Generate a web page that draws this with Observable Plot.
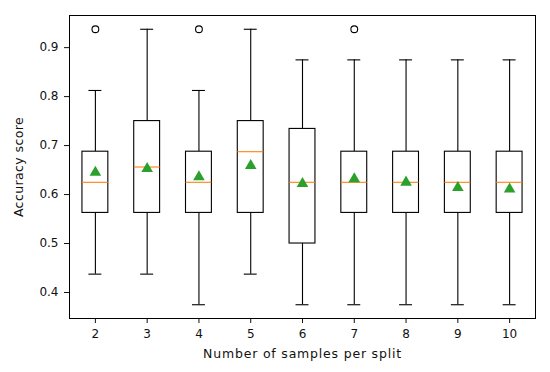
<!DOCTYPE html>
<html>
<head>
<meta charset="utf-8">
<script src="https://cdn.jsdelivr.net/npm/d3@7"></script>
<script src="https://cdn.jsdelivr.net/npm/@observablehq/plot@0.6"></script>
<style>
  html, body { margin: 0; padding: 0; background: #fff; }
  svg { font-family: "DejaVu Sans", sans-serif; }
  g[aria-label="x-axis label"] text { font-size: 12.5px; letter-spacing: 0.8px; }
  g[aria-label="y-axis label"] text { font-size: 12.5px; letter-spacing: 0.4px; }
  g[aria-label="x-axis tick label"] text, g[aria-label="y-axis tick label"] text { font-size: 12px; }
</style>
</head>
<body>
<div id="chart"></div>
<script>
const splits      = [2, 3, 4, 5, 6, 7, 8, 9, 10];
const whiskerLow  = [0.4375, 0.4375, 0.375, 0.4375, 0.375, 0.375, 0.375, 0.375, 0.375];
const q1          = [0.5625, 0.5625, 0.5625, 0.5625, 0.5, 0.5625, 0.5625, 0.5625, 0.5625];
const medians     = [0.625, 0.65625, 0.625, 0.6875, 0.625, 0.625, 0.625, 0.625, 0.625];
const q3          = [0.6875, 0.75, 0.6875, 0.75, 0.734, 0.6875, 0.6875, 0.6875, 0.6875];
const whiskerHigh = [0.8125, 0.9375, 0.8125, 0.9375, 0.875, 0.875, 0.875, 0.875, 0.875];
const means       = [0.645, 0.653, 0.636, 0.659, 0.622, 0.632, 0.625, 0.614, 0.611];
const outlierSplits = [2, 4, 7];
const outlierValues = [0.9375, 0.9375, 0.9375];

const boxes = splits.map((s, i) => ({
  split: s, lo: whiskerLow[i], q1: q1[i], med: medians[i], q3: q3[i], hi: whiskerHigh[i], mean: means[i]
}));
const outliers = outlierSplits.map((s, i) => ({split: s, value: outlierValues[i]}));

const halfBox = 0.25, halfCap = 0.125;

const chart = Plot.plot({
  width: 550,
  height: 372,
  marginLeft: 69,
  marginRight: 15,
  marginTop: 15,
  marginBottom: 54,
  style: {fontFamily: "DejaVu Sans, sans-serif", fontSize: "12px", color: "#111", background: "#fff"},
  x: {domain: [1.5, 10.5], ticks: splits, tickFormat: d => String(d), tickSize: 5, tickPadding: 6,
      label: "Number of samples per split", labelAnchor: "center", labelArrow: "none", labelOffset: 39},
  y: {domain: [0.3469, 0.9656], ticks: [0.4, 0.5, 0.6, 0.7, 0.8, 0.9], tickFormat: d => d.toFixed(1),
      tickSize: 5, tickPadding: 6,
      label: "Accuracy score", labelAnchor: "center", labelArrow: "none", labelOffset: 55},
  marks: [
    Plot.ruleX(boxes, {x: "split", y1: "q3", y2: "hi", stroke: "#000", strokeWidth: 1.1}),
    Plot.ruleX(boxes, {x: "split", y1: "lo", y2: "q1", stroke: "#000", strokeWidth: 1.1}),
    Plot.ruleY(boxes, {y: "hi", x1: d => d.split - halfCap, x2: d => d.split + halfCap, stroke: "#000", strokeWidth: 1.1}),
    Plot.ruleY(boxes, {y: "lo", x1: d => d.split - halfCap, x2: d => d.split + halfCap, stroke: "#000", strokeWidth: 1.1}),
    Plot.rect(boxes, {x1: d => d.split - halfBox, x2: d => d.split + halfBox, y1: "q1", y2: "q3",
      fill: "#fff", stroke: "#000", strokeWidth: 1.1}),
    Plot.ruleY(boxes, {y: "med", x1: d => d.split - halfBox, x2: d => d.split + halfBox, stroke: "#ff7f0e", strokeWidth: 1.1}),
    Plot.dot(boxes, {x: "split", y: "mean", symbol: "triangle", r: 4.3, fill: "#2ca02c", stroke: "none"}),
    Plot.dot(outliers, {x: "split", y: "value", r: 3.4, fill: "none", stroke: "#000", strokeWidth: 1.1}),
    Plot.frame({stroke: "#000", strokeWidth: 1})
  ]
});
document.getElementById("chart").appendChild(chart);
</script>
</body>
</html>
